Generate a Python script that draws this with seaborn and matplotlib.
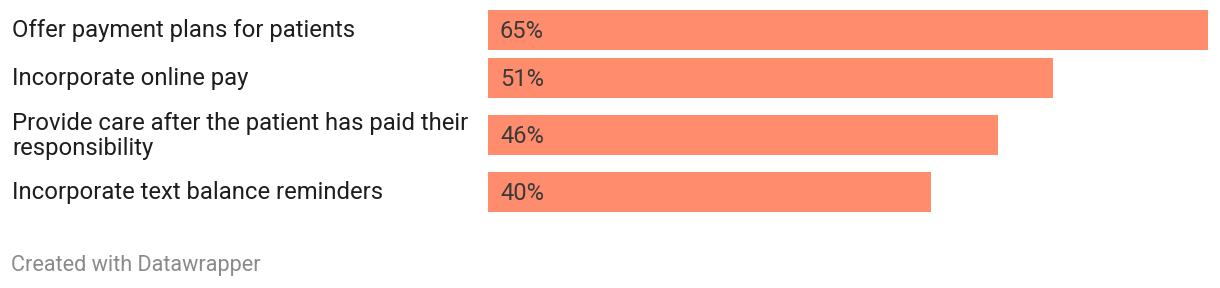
import matplotlib
matplotlib.use("Agg")
import matplotlib.pyplot as plt
import seaborn as sns
import pandas as pd

categories = [
    "Offer payment plans for patients",
    "Incorporate online pay",
    "Provide care after the patient has paid their\nresponsibility",
    "Incorporate text balance reminders",
]
values = [65, 51, 46, 40]
value_labels = ["65%", "51%", "46%", "40%"]
footer = "Created with Datawrapper"

BAR_COLOR = "#FF8C6C"
W, H = 1220, 288

sns.set_theme(style="white")
plt.rcParams["font.family"] = ["Roboto", "DejaVu Sans"]

# row layout derived from the number of label lines (pixel units)
row_h = [48 if c.count("\n") == 0 else 66 for c in categories]
pos = []
acc = 6
for h in row_h:
    pos.append(acc + h / 2)
    acc += h
ytop, ybot = 0, acc + 4

df = pd.DataFrame({"cat": categories, "val": values, "pos": pos, "lab": value_labels})

fig = plt.figure(figsize=(W / 100, H / 100), dpi=100)
ax = fig.add_axes([488 / W, 1 - ybot / H, (1208 - 488) / W, (ybot - ytop) / H])
sns.barplot(data=df, x="val", y="pos", orient="h", native_scale=True,
            color=BAR_COLOR, saturation=1, width=40 / 48, ax=ax, linewidth=0)
ax.set_xlim(0, 65)
ax.set_ylim(ybot, ytop)
ax.axis("off")

for p, lab in zip(df["pos"], df["lab"]):
    ax.annotate(lab, xy=(0, p), xytext=(8.6, -1), textcoords="offset points",
                va="center", ha="left", fontsize=17, color="#3a3a3a")

for c, p in zip(df["cat"], df["pos"]):
    fig.text(12 / W, 1 - (p + 1) / H, c, va="center", ha="left", fontsize=17.2,
             color="#1d1d1d", linespacing=1.08)

fig.text(11 / W, 1 - 266 / H, footer, va="center", ha="left", fontsize=15.6, color="#8a8a8a")

fig.savefig("out.png", dpi=100)
